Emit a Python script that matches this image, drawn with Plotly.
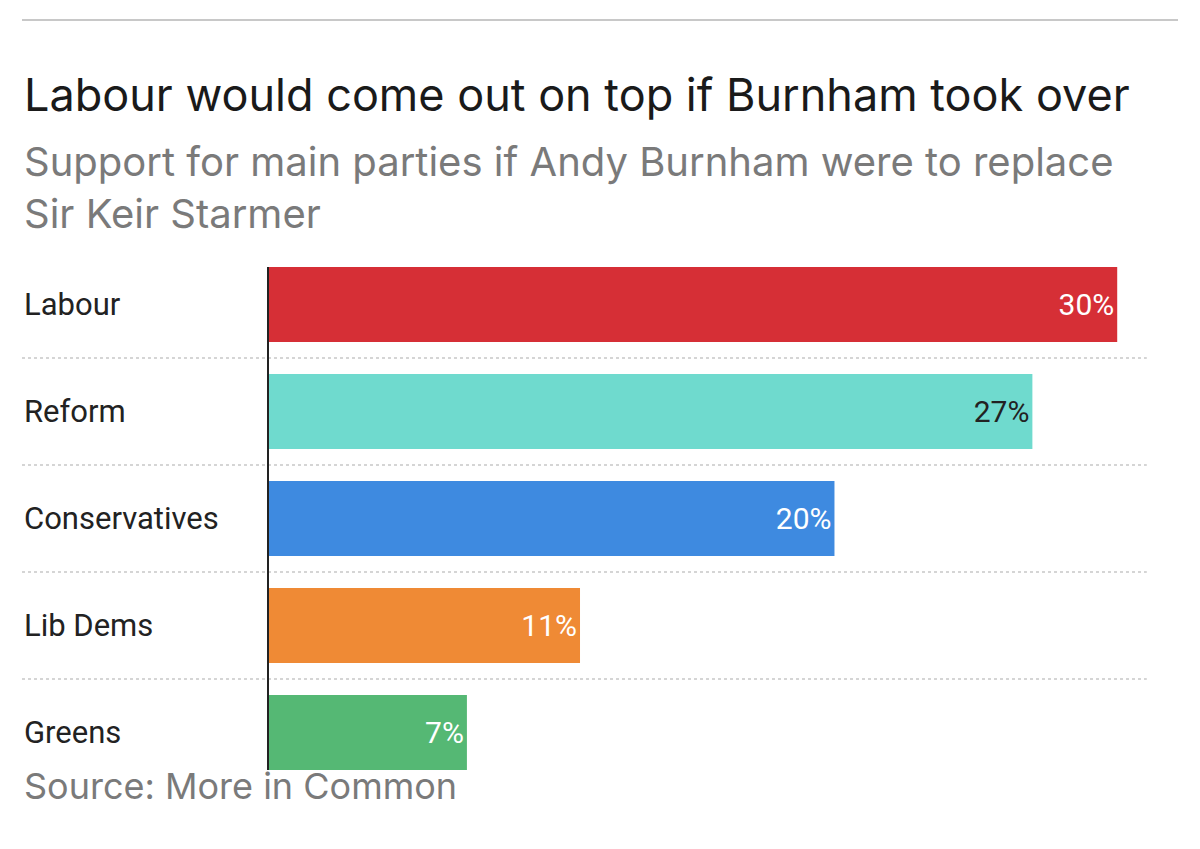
import plotly.graph_objects as go

parties = ["Labour", "Reform", "Conservatives", "Lib Dems", "Greens"]
support = [30, 27, 20, 11, 7]
colours = ["#d62f36", "#6fdace", "#3e8ae0", "#ef8a35", "#55b874"]
text_colours = ["white", "#222222", "white", "white", "white"]

fig = go.Figure(go.Bar(
    x=support, y=parties, orientation="h", width=0.7,
    marker=dict(color=colours, line=dict(width=0)),
    text=[f"{v}%" for v in support], textposition="inside", insidetextanchor="end",
    textfont=dict(family="Roboto", size=30, color=text_colours),
))

fig.update_layout(
    width=1200, height=849, plot_bgcolor="white", paper_bgcolor="white",
    margin=dict(l=14, r=30, t=259, b=87), showlegend=False,
    xaxis=dict(domain=[(269 - 22) / 1156, 1], range=[0, 32.15], visible=False),
    yaxis=dict(range=[4.35, -0.35], showticklabels=False, showgrid=False, zeroline=False,
               showline=True, linecolor="#222222", linewidth=2, ticks=""),
)

# party labels
for p in parties:
    fig.add_annotation(x=0, xref="paper", y=p, yref="y", text=p, showarrow=False,
                       xanchor="left", font=dict(family="Roboto", size=31, color="#222222"))

# dotted separators between rows
for i in range(4):
    fig.add_shape(type="line", xref="paper", yref="y", x0=0, x1=0.973, y0=i + 0.5, y1=i + 0.5,
                  line=dict(color="#c8c8c8", width=1.5, dash="dot"), layer="below")

fig.add_shape(type="line", xref="paper", yref="paper", x0=0, x1=1, y0=1.491, y1=1.491,
              line=dict(color="#c8c8c8", width=2))
fig.add_annotation(x=0, xref="paper", y=1.402, yref="paper", xanchor="left", showarrow=False,
                   text="Labour would come out on top if Burnham took over",
                   font=dict(family="Inter", size=45, color="#1a1a1a"))
fig.add_annotation(x=0, xref="paper", y=1.262, yref="paper", xanchor="left", yanchor="top",
                   showarrow=False, align="left",
                   text="Support for main parties if Andy Burnham were to replace<br>Sir Keir Starmer",
                   font=dict(family="Inter", size=40, color="#7a7a7a"))
fig.add_annotation(x=0, xref="paper", y=-0.080, yref="paper", xanchor="left", showarrow=False,
                   text="Source: More in Common", font=dict(family="Inter", size=36, color="#7a7a7a"))

fig.write_html("out.html")
